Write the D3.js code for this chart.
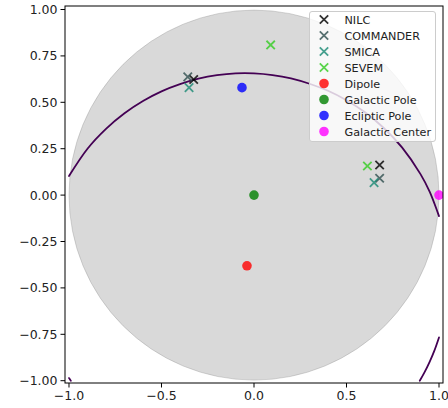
<!DOCTYPE html>
<html><head><meta charset="utf-8">
<script src="https://cdn.jsdelivr.net/npm/d3@7"></script>
<style>
html,body{margin:0;padding:0;background:#fff;overflow:hidden;}
svg{display:block;font-family:"DejaVu Sans",sans-serif;}
</style></head>
<body>
<svg id="c" width="448" height="408"></svg>
<script>
// ---- data ----
const xTicks = [-1.0, -0.5, 0.0, 0.5, 1.0];
const yTicks = [-1.0, -0.75, -0.5, -0.25, 0.0, 0.25, 0.5, 0.75, 1.0];
const skyRadius = 1.0;
// contour curve segments
const curveMain = [[-1.0,0.103],[-0.9,0.250],[-0.8,0.357],[-0.7,0.441],[-0.6,0.507],[-0.5,0.559],[-0.4,0.598],[-0.3,0.627],[-0.2,0.646],[-0.1,0.656],[0.0,0.656],[0.1,0.647],[0.2,0.629],[0.3,0.600],[0.4,0.562],[0.5,0.511],[0.6,0.446],[0.7,0.363],[0.8,0.257],[0.9,0.113],[0.95,0.017],[1.0,-0.113]];
const curveLowRight = [[0.896,-1.0],[0.92,-0.958],[0.95,-0.897],[0.975,-0.838],[1.0,-0.767]];
const curveLowLeft = [[-1.0,-0.986],[-0.99,-1.0]];
const crossNames = ["NILC","COMMANDER","SMICA","SEVEM"];
const crossColors = ["#000000","#2f4f4f","#1a8a74","#33cc22"];
const crossPoints = [
  [[-0.326,0.623],[0.679,0.162]],
  [[-0.358,0.637],[0.679,0.091]],
  [[-0.351,0.579],[0.649,0.067]],
  [[0.090,0.809],[0.613,0.157]]
];
const dotNames = ["Dipole","Galactic Pole","Ecliptic Pole","Galactic Center"];
const dotColors = ["#ff0000","#008000","#0000ff","#ff00ff"];
const dotPoints = [[-0.038,-0.381],[0.0,0.0],[-0.065,0.579],[1.0,0.0]];

// ---- chart ----
const L=65, R=443, T=6, B=383;
const x = d3.scaleLinear().domain([-1.0216,1.0216]).range([L,R]);
const y = d3.scaleLinear().domain([-1.0124,1.0189]).range([B,T]);
const svg = d3.select("#c");
svg.append("defs").append("clipPath").attr("id","clip")
  .append("rect").attr("x",L).attr("y",T).attr("width",R-L).attr("height",B-T);
const g = svg.append("g").attr("clip-path","url(#clip)");

g.append("circle").attr("cx",x(0)).attr("cy",y(0)).attr("r",x(skyRadius)-x(0))
  .attr("fill","#808080").attr("fill-opacity",0.3)
  .attr("stroke","#808080").attr("stroke-opacity",0.3).attr("stroke-width",1);

const line = d3.line().x(d=>x(d[0])).y(d=>y(d[1])).curve(d3.curveCatmullRom);
[curveMain,curveLowRight,curveLowLeft].forEach(seg=>{
  g.append("path").attr("d",line(seg)).attr("fill","none")
   .attr("stroke","#440154").attr("stroke-width",1.8).attr("stroke-linecap","round");
});

function cross(sel, cx, cy, col){
  const s=4.2;
  sel.append("path").attr("d",`M${cx-s},${cy-s}L${cx+s},${cy+s}M${cx-s},${cy+s}L${cx+s},${cy-s}`)
    .attr("stroke",col).attr("stroke-width",1.8).attr("stroke-opacity",0.8).attr("fill","none");
}
crossPoints.forEach((pts,i)=>pts.forEach(p=>cross(g,x(p[0]),y(p[1]),crossColors[i])));
dotPoints.forEach((p,i)=>{
  g.append("circle").attr("cx",x(p[0])).attr("cy",y(p[1])).attr("r",4.8)
   .attr("fill",dotColors[i]).attr("fill-opacity",0.8);
});

// axes
const ax = svg.append("g");
ax.append("rect").attr("x",L).attr("y",T).attr("width",R-L).attr("height",B-T)
  .attr("fill","none").attr("stroke","#000").attr("stroke-width",1);
const fmt1 = d=>(d<0?"\u2212":"")+Math.abs(d).toFixed(1);
const fmt2 = d=>(d<0?"\u2212":"")+Math.abs(d).toFixed(2);
xTicks.forEach(v=>{
  ax.append("line").attr("x1",x(v)).attr("x2",x(v)).attr("y1",B).attr("y2",B+4.5).attr("stroke","#000");
  ax.append("text").attr("x",x(v)).attr("y",B+17).attr("text-anchor","middle")
    .attr("font-size",12.5).attr("fill","#222").text(fmt1(v));
});
yTicks.forEach(v=>{
  ax.append("line").attr("x1",L-4.5).attr("x2",L).attr("y1",y(v)).attr("y2",y(v)).attr("stroke","#000");
  ax.append("text").attr("x",L-7.5).attr("y",y(v)).attr("dy","0.36em").attr("text-anchor","end")
    .attr("font-size",12.5).attr("fill","#222").text(fmt2(v));
});

// legend
const lg = svg.append("g");
lg.append("rect").attr("x",309.5).attr("y",11.5).attr("width",126).attr("height",130).attr("rx",2.5)
  .attr("fill","#fff").attr("fill-opacity",0.8).attr("stroke","#ccc").attr("stroke-width",1);
const names = crossNames.concat(dotNames);
names.forEach((n,i)=>{
  const yy = 19.5 + i*16;
  if(i<4) cross(lg,324,yy,crossColors[i]);
  else lg.append("circle").attr("cx",324).attr("cy",yy).attr("r",4.8).attr("fill",dotColors[i-4]).attr("fill-opacity",0.8);
  lg.append("text").attr("x",344.5).attr("y",yy).attr("dy","0.36em").attr("font-size",11.2)
    .attr("fill","#222").text(n);
});
</script>
</body></html>
